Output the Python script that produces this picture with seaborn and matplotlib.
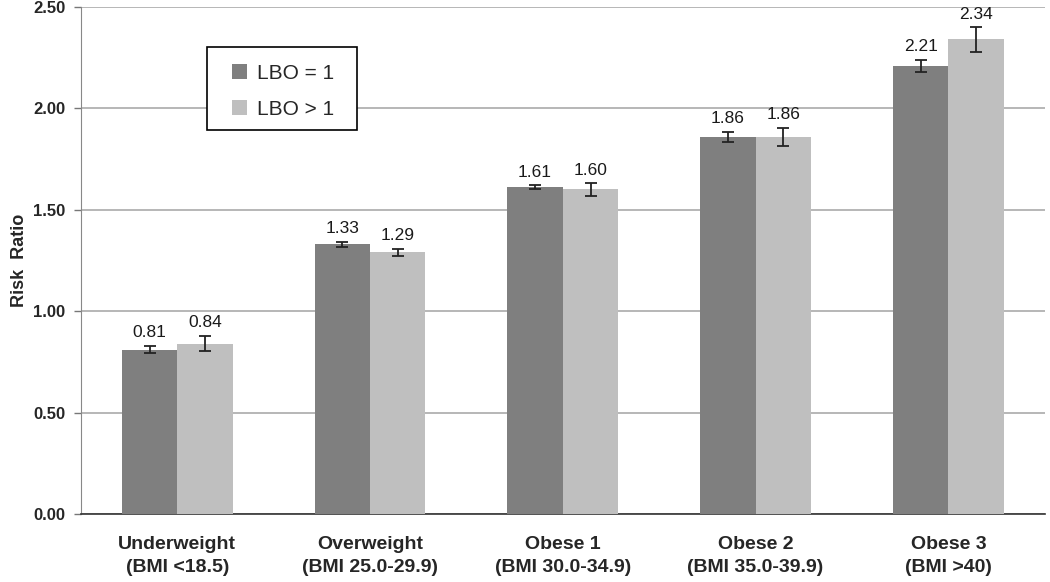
import numpy as np
import pandas as pd
import matplotlib
matplotlib.use('Agg')
import matplotlib.pyplot as plt
from matplotlib.patches import Rectangle
import seaborn as sns

categories = ['Underweight\n(BMI <18.5)', 'Overweight\n(BMI 25.0-29.9)', 'Obese 1\n(BMI 30.0-34.9)',
              'Obese 2\n(BMI 35.0-39.9)', 'Obese 3\n(BMI >40)']
groups = ['LBO = 1', 'LBO > 1']
rr_lbo1 = [0.81, 1.33, 1.61, 1.86, 2.21]
rr_lbo2 = [0.84, 1.29, 1.60, 1.86, 2.34]
err_lbo1 = [0.018, 0.012, 0.010, 0.025, 0.030]
err_lbo2 = [0.038, 0.018, 0.030, 0.045, 0.060]

df = pd.DataFrame({
    'category': categories * 2,
    'group': [groups[0]] * 5 + [groups[1]] * 5,
    'rr': rr_lbo1 + rr_lbo2,
})
errs = [err_lbo1, err_lbo2]
vals = [rr_lbo1, rr_lbo2]

sns.set_style('white')
plt.rcParams['font.family'] = ['Liberation Sans', 'DejaVu Sans']

fig = plt.figure(figsize=(10.5, 5.82), dpi=100)
ax = fig.add_axes([0.077, 0.117, 0.918, 0.871])

sns.barplot(data=df, x='category', y='rr', hue='group', order=categories, hue_order=groups,
            palette=['#7f7f7f', '#bfbfbf'], errorbar=None, width=0.575, saturation=1,
            edgecolor='none', ax=ax, zorder=3)

for cont, e, v in zip(ax.containers, errs, vals):
    xs = [p.get_x() + p.get_width() / 2 for p in cont.patches]
    ax.errorbar(xs, v, yerr=e, fmt='none', ecolor='#222222', elinewidth=1.3, capsize=4,
                capthick=1.3, zorder=4)
    for x, y, ee in zip(xs, v, e):
        ax.annotate(f'{y:.2f}', (x, y + ee), xytext=(0, 4), textcoords='offset points',
                    ha='center', va='bottom', fontsize=12.5, color='#1a1a1a')

ax.set_ylim(0, 2.5)
ax.set_xlim(-0.5, 4.5)
ax.set_yticks(np.arange(0, 2.51, 0.5))
ax.set_yticklabels([f'{t:.2f}' for t in np.arange(0, 2.51, 0.5)], fontweight='bold', fontsize=12)
ax.yaxis.grid(True, color='#aaaaaa', linewidth=1.2, zorder=0)
ax.set_axisbelow(True)

ax.set_xticks(np.arange(5))
ax.set_xticklabels(categories, fontweight='bold', fontsize=14, linespacing=1.45)
ax.set_xticks(np.arange(-0.5, 5, 1), minor=True)
ax.tick_params(axis='x', which='major', length=0, pad=16)
ax.tick_params(axis='x', which='minor', length=8, width=1, color='#333333', direction='out')
ax.tick_params(axis='y', length=5, width=1, color='#777777', direction='out', left=True, pad=6)

ax.set_xlabel('')
ax.set_ylabel('Risk  Ratio', fontweight='bold', fontsize=13, labelpad=4)

for s in ['top', 'right']:
    ax.spines[s].set_visible(False)
ax.spines['left'].set_color('#888888')
ax.spines['bottom'].set_color('#333333')
ax.spines['bottom'].set_linewidth(1.2)

# legend frame drawn separately so the padding matches the original box
ax.add_patch(Rectangle((0.1307, 0.7574), 0.1556, 0.1637, transform=ax.transAxes, fill=True,
                       facecolor='white', edgecolor='black', linewidth=1.2, zorder=5, clip_on=False))
leg = ax.legend(loc='upper left', bbox_to_anchor=(0.1566, 0.888), fontsize=15, frameon=False,
                handlelength=0.75, handleheight=0.75, borderpad=0, borderaxespad=0,
                labelspacing=0.82, handletextpad=0.45)
leg.set_zorder(6)

fig.savefig('out.png', dpi=100)
